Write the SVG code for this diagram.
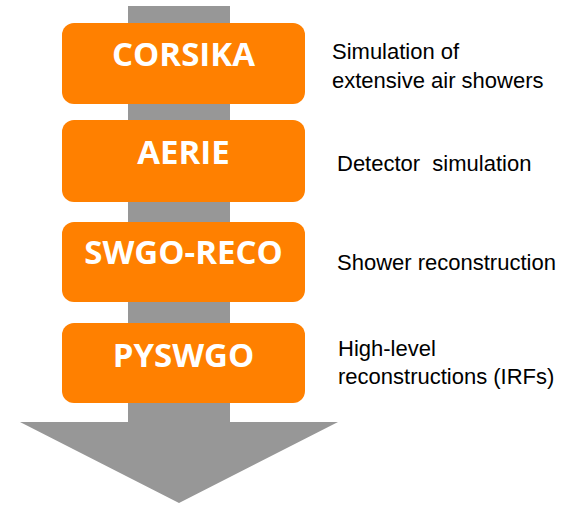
<svg xmlns="http://www.w3.org/2000/svg" width="575" height="505" viewBox="0 0 575 505">
<style>
.box{fill:#FF8000;}
.t{font-family:"Open Sans","Liberation Sans",sans-serif;font-weight:700;font-size:33px;fill:#FFFFFF;text-anchor:middle;}
.d{font-family:"Liberation Sans",Arial,sans-serif;font-size:22px;fill:#000000;}
</style>
<rect width="575" height="505" fill="#FFFFFF"/>
<g id="connectors">
<polygon points="128,6 230,6 230,422 338,422 179,503 20,422 128,422" fill="#979797"/>
</g>
<g id="corsika">
<rect class="box" x="62" y="23" width="243" height="81" rx="12"/>
<text class="t" x="183.5" y="66">CORSIKA</text>
</g>
<g id="aerie">
<rect class="box" x="62" y="120" width="243" height="82" rx="12"/>
<text class="t" x="183.5" y="164">AERIE</text>
</g>
<g id="swgo-reco">
<rect class="box" x="62" y="222" width="243" height="80" rx="12"/>
<text class="t" x="183.5" y="264">SWGO-RECO</text>
</g>
<g id="pyswgo">
<rect class="box" x="62" y="323" width="243" height="80" rx="12"/>
<text class="t" x="183.5" y="367">PYSWGO</text>
</g>
<g id="labels">
<text class="d" x="332" y="59">Simulation of</text>
<text class="d" x="332" y="88">extensive air showers</text>
<text class="d" x="337" y="171" xml:space="preserve">Detector  simulation</text>
<text class="d" x="337" y="270">Shower reconstruction</text>
<text class="d" x="338" y="356">High-level</text>
<text class="d" x="338" y="384">reconstructions (IRFs)</text>
</g>
</svg>
